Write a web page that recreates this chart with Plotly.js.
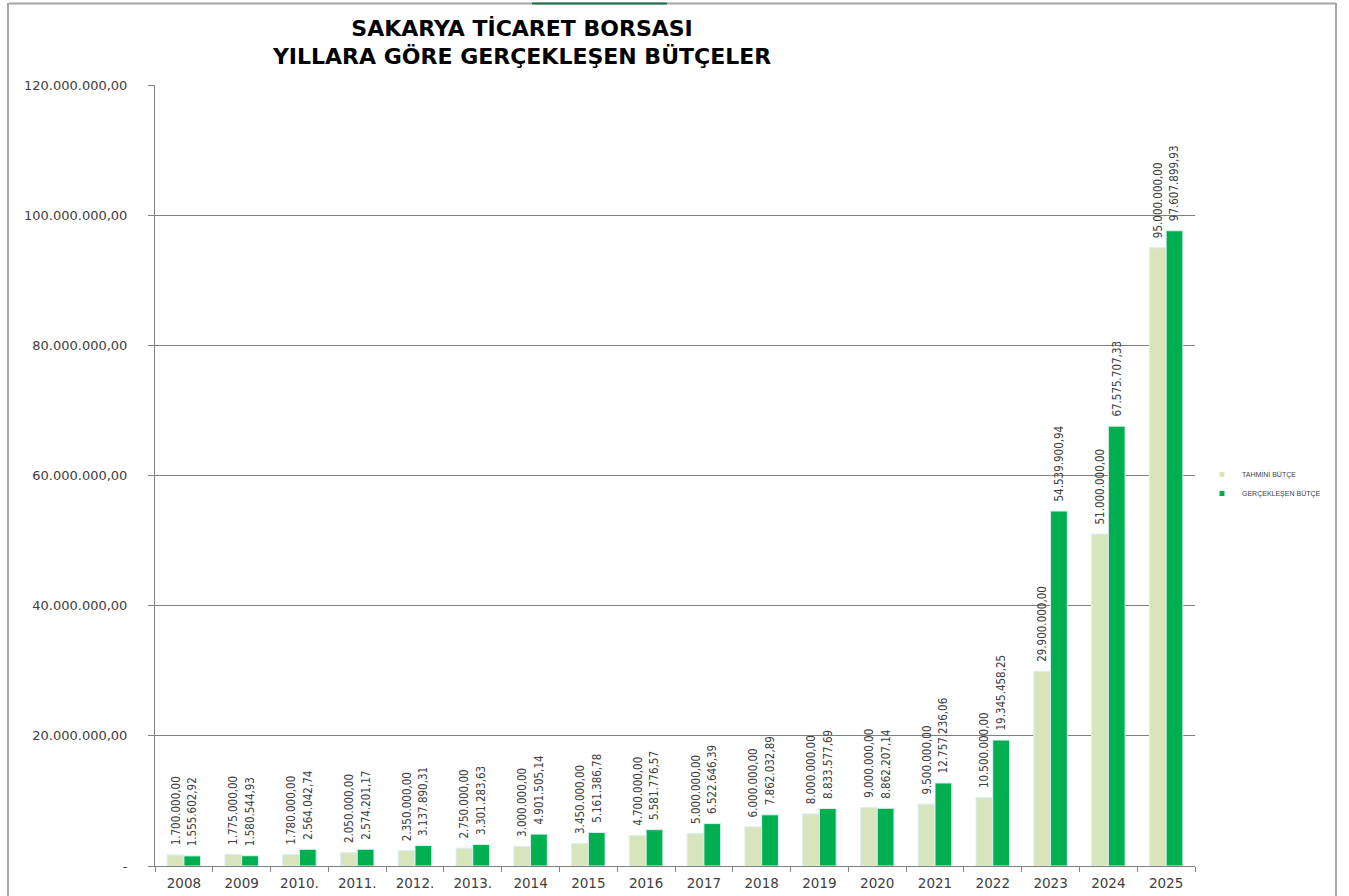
<!DOCTYPE html>
<html>
<head>
<meta charset="utf-8">
<script src="https://cdn.plot.ly/plotly-3.0.1.min.js"></script>
<style>
html,body{margin:0;padding:0;background:#fff;}
#chart{width:1349px;height:896px;}
</style>
</head>
<body>
<div id="chart"></div>
<script>
const years = ["2008","2009","2010.","2011.","2012.","2013.","2014","2015","2016","2017","2018","2019","2020","2021","2022","2023","2024","2025"];
const tahmini = [1700000,1775000,1780000,2050000,2350000,2750000,3000000,3450000,4700000,5000000,6000000,8000000,9000000,9500000,10500000,29900000,51000000,95000000];
const gerceklesen = [1555602.92,1580544.93,2564042.74,2574201.17,3137890.31,3301283.63,4901505.14,5161386.78,5581776.57,6522646.39,7862032.89,8833577.69,8862207.14,12757236.06,19345458.25,54539900.94,67575707.33,97607899.93];
const yTicks = [0,20000000,40000000,60000000,80000000,100000000,120000000];
const seriesNames = ["TAHMİNİ BÜTÇE","GERÇEKLEŞEN BÜTÇE"];
const seriesColors = ["#D8E4BC","#00B050"];

function trFormat(v){
  if(v===0) return "-";
  const fixed = v.toFixed(2);
  let [ip, dp] = fixed.split(".");
  ip = ip.replace(/\B(?=(\d{3})+(?!\d))/g, ".");
  return ip + "," + dp;
}

const labelFont = {family:"'Liberation Sans Narrow','DejaVu Sans Condensed',Arial", size:11.5, color:"#404040"};

const traces = [];
[tahmini, gerceklesen].forEach((vals, i) => {
  traces.push({
    type:"bar", x:years, y:vals, name:seriesNames[i], showlegend:false,
    marker:{color:seriesColors[i], line:{color:"#DAEEF3", width:1}},
    texttemplate:"\u00a0\u00a0%{y:,.2f}", textposition:"outside", textangle:-90,
    constraintext:"none", textfont:labelFont, cliponaxis:false, hoverinfo:"x+y"
  });
});
// legend entries (small square swatches like the original)
seriesNames.forEach((n, i) => {
  traces.push({
    type:"scatter", mode:"markers", x:[null], y:[null], name:n, showlegend:true,
    marker:{symbol:"square", size:5, color:seriesColors[i]}, hoverinfo:"skip"
  });
});

const W = 1040, H = 781, L = 155, B = 866;
const px = v => (v - L) / W;
const py = v => (B - v) / H;

const frameShapes = [
  {type:"line", xref:"paper", yref:"paper", x0:px(9), x1:px(1336), y0:py(3.5), y1:py(3.5), line:{color:"#A6A6A6", width:2}},
  {type:"line", xref:"paper", yref:"paper", x0:px(532), x1:px(667), y0:py(3.5), y1:py(3.5), line:{color:"#217346", width:2}},
  {type:"line", xref:"paper", yref:"paper", x0:px(8), x1:px(8), y0:py(3), y1:py(900), line:{color:"#A6A6A6", width:2}},
  {type:"line", xref:"paper", yref:"paper", x0:px(1336), x1:px(1336), y0:py(3), y1:py(900), line:{color:"#A6A6A6", width:2}}
];

const layout = {
  width:1349, height:896,
  margin:{l:L, r:1349 - L - W, t:85, b:30},
  paper_bgcolor:"#fff", plot_bgcolor:"#fff",
  separators:",.",
  barmode:"group", bargap:0.42, bargroupgap:0,
  title:{
    text:"SAKARYA TİCARET BORSASI<br>YILLARA GÖRE GERÇEKLEŞEN BÜTÇELER",
    font:{family:"'DejaVu Sans',Arial", size:22, color:"#000", weight:"bold"},
    x:0.387, xanchor:"center", xref:"container",
    y:0.96, yanchor:"top", yref:"container"
  },
  xaxis:{
    type:"category", showline:true, linecolor:"#808080", linewidth:1,
    ticks:"outside", tickson:"boundaries", ticklen:5, tickcolor:"#808080",
    tickfont:{family:"'DejaVu Sans',Arial", size:13.5, color:"#404040"},
    ticklabelstandoff:5,
    showgrid:false, fixedrange:true
  },
  yaxis:{
    range:[0,120000000], tickvals:yTicks, ticktext:yTicks.map(trFormat),
    showline:true, linecolor:"#808080", linewidth:1,
    ticks:"outside", ticklen:6, tickcolor:"#808080",
    showgrid:true, gridcolor:"#808080", gridwidth:1,
    zeroline:false,
    tickfont:{family:"'DejaVu Sans',Arial", size:13, color:"#404040"},
    ticklabelstandoff:18, fixedrange:true
  },
  legend:{
    x:px(1202), xanchor:"left", y:py(484), yanchor:"middle",
    font:{family:"'Liberation Sans Narrow',Arial", size:7, color:"#404040"},
    bgcolor:"rgba(0,0,0,0)", itemwidth:30, tracegroupgap:2
  },
  shapes:frameShapes,
  showlegend:true
};

Plotly.newPlot("chart", traces, layout, {displayModeBar:false, staticPlot:true});
</script>
</body>
</html>
